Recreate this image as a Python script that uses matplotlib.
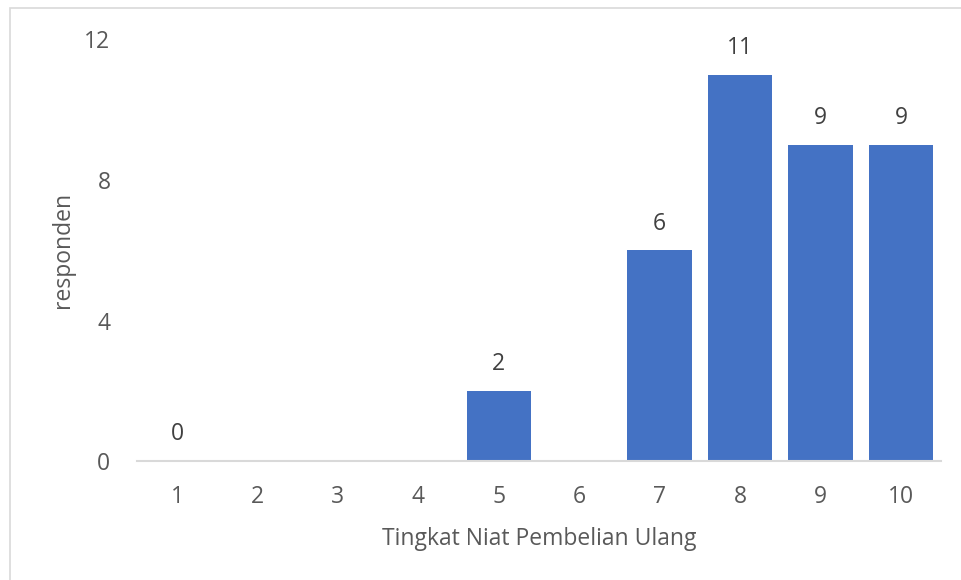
import matplotlib
matplotlib.use("Agg")
import matplotlib.pyplot as plt
from matplotlib.patches import Rectangle

plt.rcParams['font.family'] = ['Open Sans', 'DejaVu Sans']

categories = ["1", "2", "3", "4", "5", "6", "7", "8", "9", "10"]
values = [0, None, None, None, 2, None, 6, 11, 9, 9]
y_ticks = [0, 4, 8, 12]

BAR_COLOR = "#4472C4"
AXIS_TEXT = "#595959"
LABEL_TEXT = "#404040"
FS = 16.5

fig = plt.figure(figsize=(9.61, 5.80), dpi=100)
ax = fig.add_axes([136.8 / 961, 1 - 461 / 580, (941.2 - 136.8) / 961, (461 - 39.5) / 580])

# outer chart frame
fig.patches.append(Rectangle((10 / 961, -0.1), 1.2, 1 - 8 / 580 + 0.1,
                             transform=fig.transFigure, fill=False,
                             edgecolor="#d9d9d9", linewidth=1.2))

x = list(range(len(categories)))
heights = [v if v is not None else 0 for v in values]
ax.bar(x, heights, width=0.8, color=BAR_COLOR, zorder=2)

for xi, v in zip(x, values):
    if v is not None:
        ax.annotate(str(v), (xi, v), xytext=(0, 10.5), textcoords="offset points",
                    ha="center", va="bottom", fontsize=FS, color=LABEL_TEXT)

ax.set_xlim(-0.5, len(categories) - 0.5)
ax.set_ylim(0, 12)
ax.set_xticks(x)
ax.set_xticklabels(categories)
ax.set_yticks(y_ticks)

for side in ("top", "right", "left"):
    ax.spines[side].set_visible(False)
ax.spines["bottom"].set_color("#d9d9d9")
ax.spines["bottom"].set_linewidth(1.5)

ax.tick_params(axis="both", length=0, labelsize=FS, labelcolor=AXIS_TEXT)
ax.tick_params(axis="x", pad=17)
ax.tick_params(axis="y", pad=19)

ax.set_xlabel("Tingkat Niat Pembelian Ulang", fontsize=FS, color=AXIS_TEXT, labelpad=13)
ax.set_ylabel("responden", fontsize=FS, color=AXIS_TEXT, labelpad=7)

fig.savefig("out.png", dpi=100)
